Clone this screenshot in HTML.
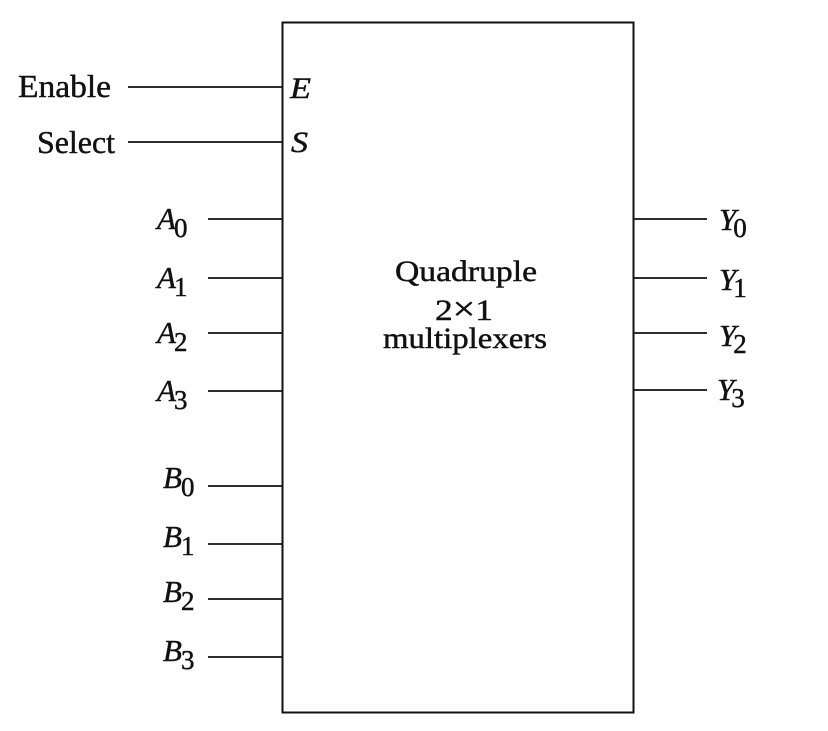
<!DOCTYPE html>
<html>
<head>
<meta charset="utf-8">
<style>
  html, body { margin: 0; padding: 0; background: #fff; }
  svg { display: block; }
  text { font-family: "Liberation Serif", "DejaVu Serif", serif; fill: #111; stroke: #111; stroke-width: 0.45; }
  .it { font-style: italic; }
</style>
</head>
<body>
<svg width="828" height="731" viewBox="0 0 828 731" xmlns="http://www.w3.org/2000/svg">
  <rect x="0" y="0" width="828" height="731" fill="#fff"/>
  <!-- main box -->
  <rect x="282.5" y="22.5" width="351" height="690" fill="none" stroke="#111" stroke-width="2"/>

  <g stroke="#111" stroke-width="1.8">
    <line x1="128" y1="87" x2="283" y2="87"/>
    <line x1="128" y1="142" x2="283" y2="142"/>
    <line x1="208" y1="219" x2="283" y2="219"/>
    <line x1="208" y1="278" x2="283" y2="278"/>
    <line x1="208" y1="333" x2="283" y2="333"/>
    <line x1="208" y1="391" x2="283" y2="391"/>
    <line x1="208" y1="486" x2="283" y2="486"/>
    <line x1="208" y1="544" x2="283" y2="544"/>
    <line x1="208" y1="599" x2="283" y2="599"/>
    <line x1="208" y1="657" x2="283" y2="657"/>
    <line x1="633" y1="219" x2="707" y2="219"/>
    <line x1="633" y1="278" x2="707" y2="278"/>
    <line x1="633" y1="333" x2="707" y2="333"/>
    <line x1="633" y1="390" x2="707" y2="390"/>
  </g>

  <!-- Left labels -->
  <text x="18" y="97" font-size="32" textLength="93" lengthAdjust="spacingAndGlyphs">Enable</text>
  <text x="37" y="153" font-size="32" textLength="78" lengthAdjust="spacingAndGlyphs">Select</text>

  <!-- E, S inside box -->
  <text class="it" x="290" y="98" font-size="30" textLength="21" lengthAdjust="spacingAndGlyphs">E</text>
  <text class="it" x="291" y="152" font-size="30" textLength="17" lengthAdjust="spacingAndGlyphs">S</text>

  <!-- A labels -->
  <text class="it" x="157" y="229" font-size="31">A<tspan font-style="normal" font-size="27" dy="8" dx="-2">0</tspan></text>
  <text class="it" x="157" y="288" font-size="31">A<tspan font-style="normal" font-size="27" dy="8" dx="-2">1</tspan></text>
  <text class="it" x="157" y="343" font-size="31">A<tspan font-style="normal" font-size="27" dy="8" dx="-2">2</tspan></text>
  <text class="it" x="157" y="401" font-size="31">A<tspan font-style="normal" font-size="27" dy="8" dx="-2">3</tspan></text>

  <!-- B labels -->
  <text class="it" x="163" y="488" font-size="31">B<tspan font-style="normal" font-size="27" dy="8" dx="-1">0</tspan></text>
  <text class="it" x="163" y="547" font-size="31">B<tspan font-style="normal" font-size="27" dy="8" dx="-1">1</tspan></text>
  <text class="it" x="163" y="602" font-size="31">B<tspan font-style="normal" font-size="27" dy="8" dx="-1">2</tspan></text>
  <text class="it" x="163" y="661" font-size="31">B<tspan font-style="normal" font-size="27" dy="8" dx="-1">3</tspan></text>

  <!-- Y labels -->
  <text class="it" x="719" y="230" font-size="31">Y<tspan font-style="normal" font-size="27" dy="7" dx="-3">0</tspan></text>
  <text class="it" x="719" y="290" font-size="31">Y<tspan font-style="normal" font-size="27" dy="7" dx="-3">1</tspan></text>
  <text class="it" x="719" y="346" font-size="31">Y<tspan font-style="normal" font-size="27" dy="7" dx="-3">2</tspan></text>
  <text class="it" x="717" y="400" font-size="31">Y<tspan font-style="normal" font-size="27" dy="7" dx="-3">3</tspan></text>

  <!-- Center text -->
  <text x="395" y="281" font-size="30" textLength="142" lengthAdjust="spacingAndGlyphs">Quadruple</text>
  <text x="435" y="320" font-size="30" textLength="58" lengthAdjust="spacingAndGlyphs">2<tspan font-size="34">×</tspan>1</text>
  <text x="383" y="348" font-size="30" textLength="164" lengthAdjust="spacingAndGlyphs">multiplexers</text>
</svg>
</body>
</html>
